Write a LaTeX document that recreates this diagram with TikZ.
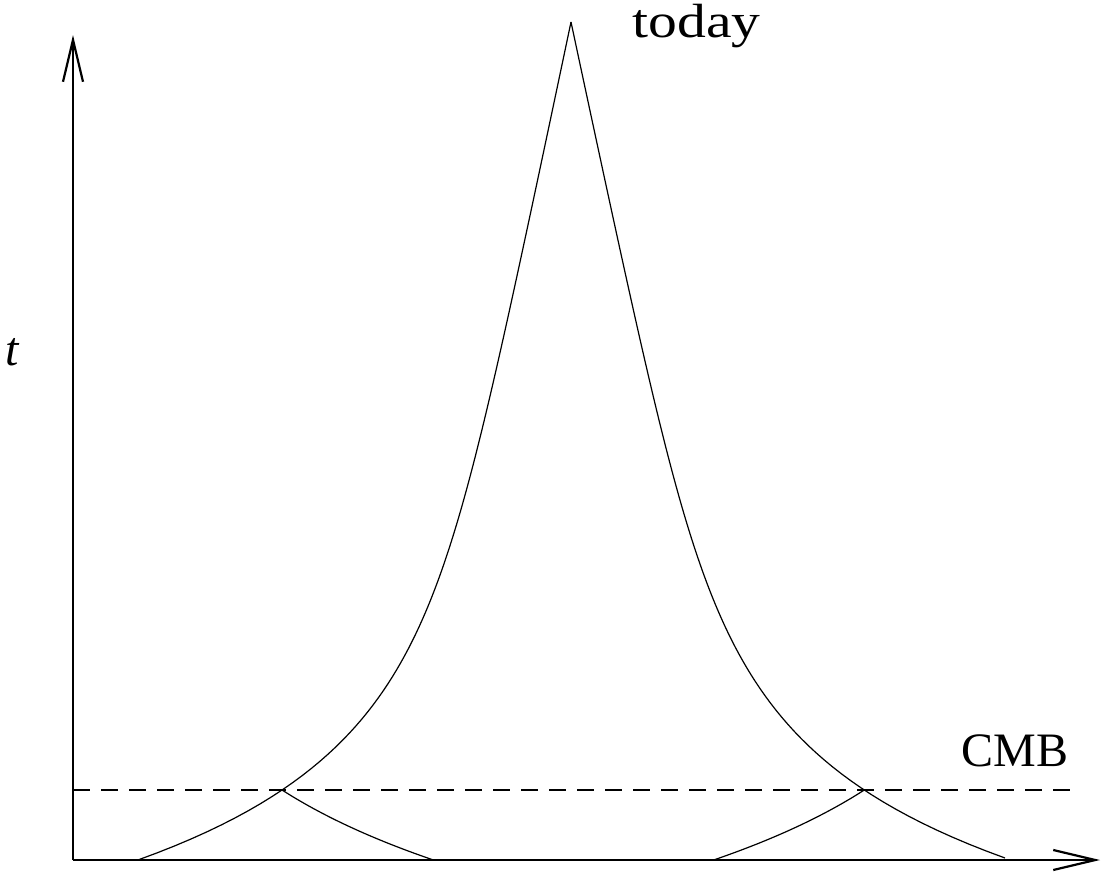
\documentclass[tikz,border=0pt]{standalone}
\usepackage{fontspec}
\setmainfont{Liberation Serif}
\usetikzlibrary{arrows.meta}
\begin{document}
\begin{tikzpicture}[x=0.5pt,y=-0.5pt,
  axis/.style={line width=1pt,-{Straight Barb[length=21pt,width=10pt,line width=1.1pt]}},
  cone/.style={line width=0.6pt},
  cmb/.style={line width=1pt,dash pattern=on 8.5pt off 5.5pt},
  lbl/.style={font=\fontsize{24pt}{28pt}\selectfont,inner sep=0pt}]
\useasboundingbox (0,0) rectangle (1105,874);
\pgfmathdeclarefunction{dd}{1}{\pgfmathparse{0.21*(#1-22)+0.059*(exp((#1-22)/100)-1)}}
\pgfmathsetmacro{\dc}{dd(790)}
\pgfmathsetmacro{\dr}{1.015*dd(790)}
\coordinate (O) at (73,860);
\coordinate (ytip) at (73,35);
\coordinate (xtip) at (1100,860);
\coordinate (peak) at (571,22);
\coordinate (cmbL) at (73,790);
\coordinate (cmbR) at (1078,790);
\draw[axis] (O) -- (ytip);
\draw[axis] (O) -- (xtip);
\draw[cmb] (cmbL) -- (cmbR);
\draw[cone] plot[domain=22:860,samples=120,variable=\t] ({571-dd(\t)},\t);
\draw[cone] plot[domain=22:858,samples=120,variable=\t] ({571+1.015*dd(\t)},\t);
\draw[cone] plot[domain=790:860,samples=40,variable=\t] ({571-\dc+1.05*(dd(\t)-\dc)},\t);
\draw[cone] plot[domain=790:860,samples=40,variable=\t] ({571+\dr-1.045*(dd(\t)-\dc)},\t);
\node[lbl,anchor=base west,xscale=1.2] (today) at (632,37) {today};
\node[lbl,anchor=base west] (cmbtext) at (961,766) {CMB};
\node[lbl] (tlabel) at (13,352) {\textit{t}};
\end{tikzpicture}
\end{document}
